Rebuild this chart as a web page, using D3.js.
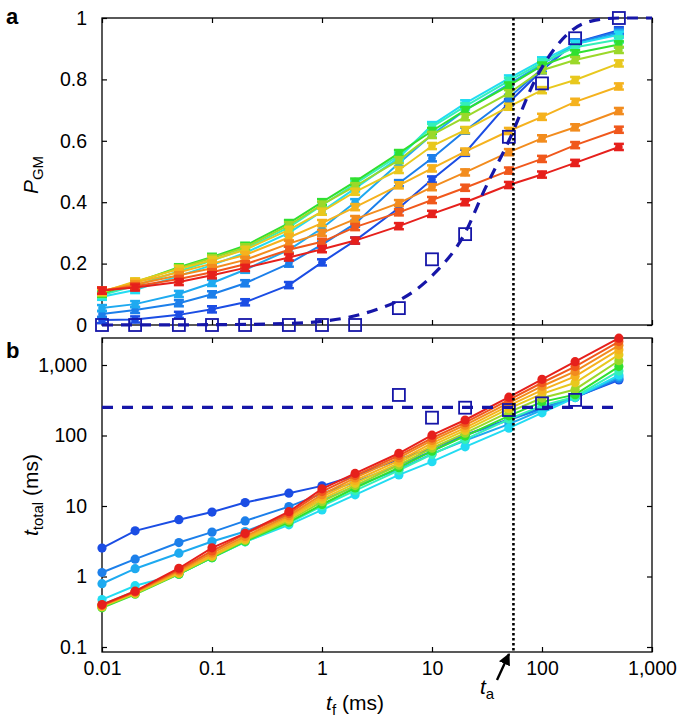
<!DOCTYPE html>
<html><head><meta charset="utf-8">
<script src="https://cdn.jsdelivr.net/npm/d3@7"></script>
<style>
body{margin:0;background:#fff;}
text{font-family:"Liberation Sans",Arial,Helvetica,sans-serif;}
</style></head>
<body><svg id="c" width="685" height="722"></svg>
<script>
// ---------- DATA ----------
const tf = [0.01,0.02,0.05,0.1,0.2,0.5,1,2,5,10,20,50,100,200,500];
const seriesNames = ["darkblue","blue","lightblue","cyan","aqua","green","ygreen","gold","yorange","orange","rorange","red"];
const seriesColors = ["#1b4de4","#1c7fea","#1eaaf0","#22dcf2","#34f0b8","#30e030","#9bd82a","#e8c81e","#f5b21e","#f28c1e","#f0581c","#e6201c"];

const pDarkBlue  = [0.016,0.018,0.033,0.051,0.074,0.130,0.204,0.275,0.381,0.474,0.561,0.725,0.830,0.920,0.960];
const pBlue      = [0.036,0.049,0.071,0.100,0.136,0.200,0.262,0.330,0.462,0.543,0.633,0.740,0.835,0.920,0.955];
const pLightBlue = [0.055,0.068,0.101,0.137,0.180,0.245,0.315,0.400,0.527,0.620,0.700,0.785,0.850,0.915,0.950];
const pCyan      = [0.092,0.114,0.160,0.195,0.235,0.300,0.370,0.445,0.545,0.651,0.722,0.803,0.862,0.915,0.945];
const pAqua      = [0.098,0.128,0.175,0.210,0.248,0.318,0.390,0.460,0.552,0.645,0.712,0.795,0.855,0.905,0.930];
const pGreen     = [0.102,0.138,0.188,0.222,0.258,0.332,0.400,0.467,0.560,0.632,0.700,0.780,0.845,0.885,0.914];
const pYGreen    = [0.105,0.140,0.185,0.218,0.253,0.325,0.392,0.452,0.537,0.619,0.677,0.755,0.830,0.863,0.896];
const pGold      = [0.108,0.142,0.182,0.212,0.245,0.310,0.369,0.434,0.505,0.583,0.635,0.711,0.765,0.798,0.852];
const pYOrange   = [0.110,0.138,0.172,0.200,0.228,0.285,0.332,0.384,0.455,0.510,0.565,0.632,0.678,0.727,0.777];
const pOrange    = [0.112,0.132,0.162,0.185,0.212,0.265,0.300,0.345,0.397,0.449,0.497,0.563,0.608,0.644,0.697];
const pROrange   = [0.112,0.126,0.150,0.172,0.198,0.245,0.271,0.319,0.367,0.407,0.447,0.503,0.541,0.586,0.636];
const pRed       = [0.112,0.122,0.140,0.162,0.186,0.220,0.247,0.275,0.322,0.362,0.400,0.456,0.490,0.528,0.580];
const pErr = 0.01;

const tDarkBlue  = [2.53,4.44,6.4,8.2,11.2,15.2,19.3,27,46,66,102,170,245,350,613];
const tBlue      = [1.14,1.76,3.03,4.26,6.15,9.8,15,22,38,60,101,166,240,345,640];
const tLightBlue = [0.79,1.29,2.14,3.13,4.35,7.5,12,19,33,55,85,145,230,350,680];
const tCyan      = [0.47,0.74,1.08,1.85,3.1,5.4,8.8,14.4,27.6,42.5,69,127,210,345,720];
const tAqua      = [0.40,0.62,1.08,1.85,3.1,5.7,10,16.5,32,54,88,170,265,355,820];
const tGreen     = [0.36,0.56,1.08,1.85,3.15,5.9,10.5,18,35,60,98,190,300,380,950];
const tYGreen    = [0.37,0.57,1.10,1.90,3.25,6.2,11.5,19.5,38,66,108,215,340,450,1150];
const tGold      = [0.38,0.58,1.12,1.95,3.35,6.5,12.5,21,41,72,118,240,390,560,1400];
const tYOrange   = [0.38,0.59,1.15,2.0,3.5,6.9,13.5,23,44,78,128,265,440,690,1650];
const tOrange    = [0.39,0.60,1.2,2.15,3.7,7.3,14.5,25,48,85,140,290,500,810,1900];
const tROrange   = [0.39,0.61,1.25,2.3,4.0,7.8,16,27,52,92,152,320,560,950,2150];
const tRed       = [0.40,0.62,1.31,2.55,4.1,8.3,17.5,29,56,101,166,350,627,1113,2400];

const sqTopX = [0.01,0.02,0.05,0.1,0.2,0.5,1,2,5,10,20,50,100,200,500];
const sqTopP = [0,0,0,0,0,0,0,0,0.055,0.214,0.296,0.613,0.787,0.934,1.0];
const fitX = [0.01,0.1,0.5,1,2,3,5,10,20,30,50,90,130,180,280,500,1000];
const fitP = [0,0.001,0.005,0.012,0.03,0.048,0.08,0.16,0.30,0.44,0.60,0.81,0.90,0.955,0.99,1.0,1.0];
const sqBotX = [5,10,20,50,100,200];
const sqBotT = [376,179,248,230,286,320];
const refTotalX = [0.01,500];
const refTotal = 250;
const tA = 55;

const xTicks = [0.01,0.1,1,10,100,1000];
const xTickLabels = ["0.01","0.1","1","10","100","1,000"];
const yTopTicks = [0,0.2,0.4,0.6,0.8,1];
const yTopLabels = ["0","0.2","0.4","0.6","0.8","1"];
const yBotTicks = [0.1,1,10,100,1000];
const yBotLabels = ["0.1","1","10","100","1,000"];

const topData = [pDarkBlue,pBlue,pLightBlue,pCyan,pAqua,pGreen,pYGreen,pGold,pYOrange,pOrange,pROrange,pRed];
const botData = [tDarkBlue,tBlue,tLightBlue,tCyan,tAqua,tGreen,tYGreen,tGold,tYOrange,tOrange,tROrange,tRed];

// ---------- LAYOUT ----------
const L=102, R=652, T1=18, B1=325, T2=338, B2=652;
const svg = d3.select("#c");
const x = d3.scaleLog().domain([0.01,1000]).range([L,R]);
const yT = d3.scaleLinear().domain([0,1]).range([B1,T1]);
const yB = d3.scaleLog().domain([0.1,1000]).range([647,365]);
const FS = 19.5;
const navy = "#1616a8";

function fmt(ticks, labels){ return d => labels[ticks.indexOf(d)]; }

function styleAxis(g){ g.select(".domain").remove(); g.selectAll("line").attr("stroke","#000").attr("stroke-width",1.2);
  g.selectAll("text").attr("font-size",FS).attr("fill","#000"); }
svg.append("g").attr("transform",`translate(${L},0)`).call(d3.axisLeft(yT).tickValues(yTopTicks).tickFormat(fmt(yTopTicks,yTopLabels)).tickSize(-5).tickPadding(15)).call(styleAxis);
svg.append("g").attr("transform",`translate(${R},0)`).call(d3.axisRight(yT).tickValues(yTopTicks).tickFormat("").tickSize(-5)).call(styleAxis);
svg.append("g").attr("transform",`translate(0,${T1})`).call(d3.axisTop(x).tickValues(xTicks).tickFormat("").tickSize(-5)).call(styleAxis);
svg.append("g").attr("transform",`translate(0,${B1})`).call(d3.axisBottom(x).tickValues(xTicks).tickFormat("").tickSize(-5)).call(styleAxis);
svg.append("g").attr("transform",`translate(${L},0)`).call(d3.axisLeft(yB).tickValues(yBotTicks).tickFormat(fmt(yBotTicks,yBotLabels)).tickSize(-5).tickPadding(15)).call(styleAxis);
svg.append("g").attr("transform",`translate(${R},0)`).call(d3.axisRight(yB).tickValues(yBotTicks).tickFormat("").tickSize(-5)).call(styleAxis);
svg.append("g").attr("transform",`translate(0,${T2})`).call(d3.axisTop(x).tickValues(xTicks).tickFormat("").tickSize(-5)).call(styleAxis);
svg.append("g").attr("transform",`translate(0,${B2})`).call(d3.axisBottom(x).tickValues(xTicks).tickFormat(fmt(xTicks,xTickLabels)).tickSize(-5).tickPadding(9)).call(styleAxis);

[[T1,B1],[T2,B2]].forEach(([t,b])=>svg.append("rect").attr("x",L).attr("y",t).attr("width",R-L).attr("height",b-t)
  .attr("fill","none").attr("stroke","#000").attr("stroke-width",1.3));

const lineT = d3.line().x((d,i)=>x(tf[i])).y(d=>yT(d));
topData.forEach((arr,k)=>{
  const c = seriesColors[k];
  const g = svg.append("g");
  g.append("path").attr("d",lineT(arr)).attr("fill","none").attr("stroke",c).attr("stroke-width",2);
  arr.forEach((v,i)=>{
    const cx=x(tf[i]), y1=yT(v-pErr), y2=yT(v+pErr);
    g.append("line").attr("x1",cx).attr("x2",cx).attr("y1",y1).attr("y2",y2).attr("stroke",c).attr("stroke-width",2);
    g.append("line").attr("x1",cx-5).attr("x2",cx+5).attr("y1",y1).attr("y2",y1).attr("stroke",c).attr("stroke-width",2.5);
    g.append("line").attr("x1",cx-5).attr("x2",cx+5).attr("y1",y2).attr("y2",y2).attr("stroke",c).attr("stroke-width",2.5);
    g.append("circle").attr("cx",cx).attr("cy",yT(v)).attr("r",3.8).attr("fill",c);
  });
});
const fitLine = d3.line().x((d,i)=>x(fitX[i])).y(d=>yT(d)).curve(d3.curveMonotoneX);
svg.append("path").attr("d",fitLine(fitP)).attr("fill","none").attr("stroke",navy).attr("stroke-width",3.2).attr("stroke-dasharray","11,8");
sqTopP.forEach((v,i)=>svg.append("rect").attr("x",x(sqTopX[i])-6).attr("y",yT(v)-6).attr("width",12).attr("height",12)
  .attr("fill","none").attr("stroke",navy).attr("stroke-width",1.8));

const lineB = d3.line().x((d,i)=>x(tf[i])).y(d=>yB(d));
botData.forEach((arr,k)=>{
  const c = seriesColors[k];
  const g = svg.append("g");
  g.append("path").attr("d",lineB(arr)).attr("fill","none").attr("stroke",c).attr("stroke-width",2);
  arr.forEach((v,i)=>g.append("circle").attr("cx",x(tf[i])).attr("cy",yB(v)).attr("r",4.6).attr("fill",c));
});
svg.append("line").attr("x1",x(refTotalX[0])).attr("x2",x(refTotalX[1])).attr("y1",yB(refTotal)).attr("y2",yB(refTotal))
  .attr("stroke",navy).attr("stroke-width",3.2).attr("stroke-dasharray","11,9");
sqBotT.forEach((v,i)=>svg.append("rect").attr("x",x(sqBotX[i])-6).attr("y",yB(v)-6).attr("width",12).attr("height",12)
  .attr("fill","none").attr("stroke",navy).attr("stroke-width",1.8));

svg.append("line").attr("x1",x(tA)).attr("x2",x(tA)).attr("y1",T1).attr("y2",B2)
  .attr("stroke","#000").attr("stroke-width",2.6).attr("stroke-dasharray","2.5,2.5");

svg.append("text").attr("x",6).attr("y",24).attr("font-size",22).attr("font-weight","bold").text("a");
svg.append("text").attr("x",6).attr("y",358).attr("font-size",22).attr("font-weight","bold").text("b");

const yl1 = svg.append("text").attr("transform","translate(38,175) rotate(-90)").attr("text-anchor","middle").attr("font-size",21);
yl1.append("tspan").attr("font-style","italic").text("P");
yl1.append("tspan").attr("font-size",15).attr("dy",5).text("GM");
const yl2 = svg.append("text").attr("transform","translate(38,495) rotate(-90)").attr("text-anchor","middle").attr("font-size",21);
yl2.append("tspan").attr("font-style","italic").text("t");
yl2.append("tspan").attr("font-size",15).attr("dy",5).text("total");
yl2.append("tspan").attr("dy",-5).text(" (ms)");

const xl = svg.append("text").attr("x",355).attr("y",710).attr("text-anchor","middle").attr("font-size",21);
xl.append("tspan").attr("font-style","italic").text("t");
xl.append("tspan").attr("font-size",15).attr("dy",5).text("f");
xl.append("tspan").attr("dy",-5).text(" (ms)");

const ta = svg.append("text").attr("x",480).attr("y",694).attr("font-size",21);
ta.append("tspan").attr("font-style","italic").text("t");
ta.append("tspan").attr("font-size",15).attr("dy",5).text("a");
svg.append("defs").append("marker").attr("id","ah").attr("viewBox","0 0 10 10").attr("refX",9).attr("refY",5)
  .attr("markerWidth",5).attr("markerHeight",5).attr("orient","auto")
  .append("path").attr("d","M0,0 L10,5 L0,10 Z").attr("fill","#000");
svg.append("line").attr("x1",497).attr("y1",680).attr("x2",509).attr("y2",654).attr("stroke","#000").attr("stroke-width",2.4).attr("marker-end","url(#ah)");
</script></body></html>
